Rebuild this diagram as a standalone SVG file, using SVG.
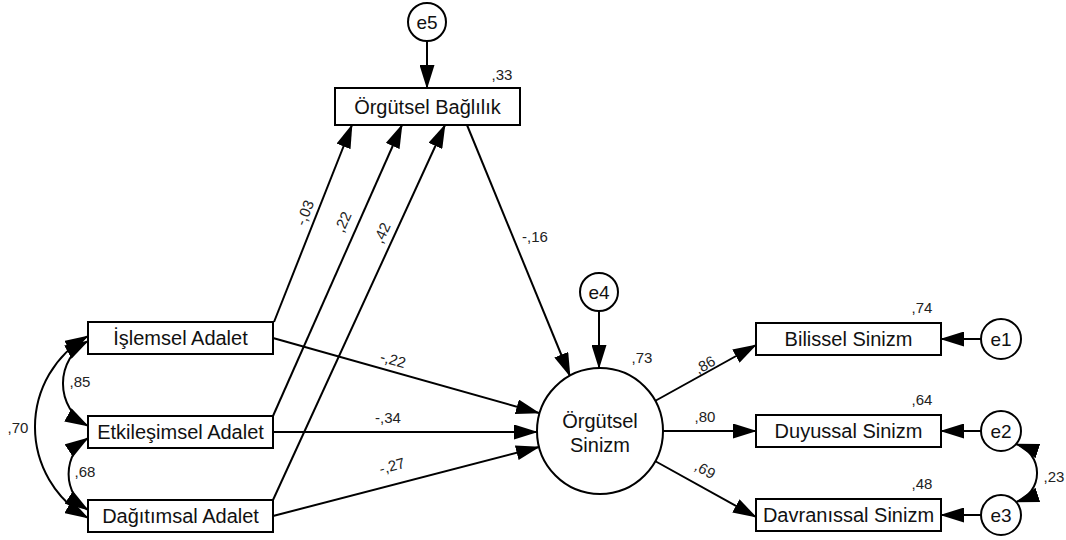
<svg xmlns="http://www.w3.org/2000/svg" width="1066" height="540" viewBox="0 0 1066 540">
  <defs>
    <marker id="ah" viewBox="0 0 24 15" markerWidth="24" markerHeight="15" refX="23" refY="7.5" orient="auto-start-reverse" markerUnits="userSpaceOnUse">
      <path d="M0,0 L24,7.5 L0,15 z" fill="#000"/>
    </marker>
  </defs>
  <style>
    .box { fill: #fff; stroke: #000; stroke-width: 2; }
    .circ { fill: #fff; stroke: #000; stroke-width: 2; }
    .lbl { font-family: "Liberation Sans", Arial, sans-serif; font-size: 20px; fill: #111; text-anchor: middle; }
    .err { font-family: "Liberation Sans", Arial, sans-serif; font-size: 19px; fill: #111; text-anchor: middle; }
    .num { font-family: "Liberation Sans", Arial, sans-serif; font-size: 15px; fill: #222; text-anchor: middle; }
    .path { fill: none; stroke: #000; stroke-width: 2; marker-end: url(#ah); }
    .cov { fill: none; stroke: #000; stroke-width: 2; marker-start: url(#ah); marker-end: url(#ah); }
  </style>

  <!-- connectors -->
  <g id="connectors">
    <!-- error terms -->
    <line class="path" x1="427" y1="41" x2="427" y2="88"/>
    <line class="path" x1="599" y1="311" x2="599" y2="368"/>
    <line class="path" x1="981" y1="339" x2="941" y2="339"/>
    <line class="path" x1="981" y1="431" x2="941" y2="431"/>
    <line class="path" x1="981" y1="515" x2="941" y2="515"/>
    <!-- justice dimensions to commitment -->
    <line class="path" x1="274" y1="322" x2="352" y2="125"/>
    <line class="path" x1="273" y1="416" x2="402" y2="125"/>
    <line class="path" x1="273" y1="500" x2="445" y2="125"/>
    <!-- commitment to cynicism -->
    <line class="path" x1="467" y1="125" x2="570" y2="376"/>
    <!-- justice dimensions to cynicism -->
    <line class="path" x1="273" y1="338" x2="539" y2="413"/>
    <line class="path" x1="273" y1="432" x2="537" y2="432"/>
    <line class="path" x1="273" y1="516" x2="539" y2="447"/>
    <!-- cynicism to indicators -->
    <line class="path" x1="655" y1="401" x2="756" y2="345"/>
    <line class="path" x1="663" y1="431" x2="756" y2="431"/>
    <line class="path" x1="655" y1="461" x2="756" y2="517"/>
    <!-- covariances -->
    <path class="cov" d="M88,341 A48.6,48.6 0 0 0 88,426"/>
    <path class="cov" d="M88,438 A43.1,43.1 0 0 0 88,510"/>
    <path class="cov" d="M88,336 A104.6,104.6 0 0 0 88,518"/>
    <path class="cov" d="M1016,444 A30.5,30.5 0 0 1 1016,502"/>
  </g>

  <!-- path coefficients -->
  <g id="coefficients">
    <text class="num" transform="translate(305,213) rotate(-68)" y="5">-,03</text>
    <text class="num" transform="translate(343,222) rotate(-66)" y="5">,22</text>
    <text class="num" transform="translate(382,233) rotate(-65.5)" y="5">,42</text>
    <text class="num" x="535" y="242">-,16</text>
    <text class="num" transform="translate(393,360) rotate(15.7)" y="5">-,22</text>
    <text class="num" x="388" y="423">-,34</text>
    <text class="num" transform="translate(392,466) rotate(-15)" y="5">-,27</text>
    <text class="num" transform="translate(705,365) rotate(-29)" y="5">,86</text>
    <text class="num" x="705" y="422">,80</text>
    <text class="num" transform="translate(705,470) rotate(29)" y="5">,69</text>
    <text class="num" x="18" y="433">,70</text>
    <text class="num" x="80" y="387">,85</text>
    <text class="num" x="85" y="477">,68</text>
    <text class="num" x="1054" y="482">,23</text>
  </g>

  <!-- observed and latent variables -->
  <g id="e5">
    <circle class="circ" cx="427" cy="22" r="19"/>
    <text class="err" x="427" y="29">e5</text>
  </g>
  <g id="orgutsel-baglilik">
    <rect class="box" x="335" y="88" width="185" height="37"/>
    <text class="lbl" x="427.5" y="114">Örgütsel Bağlılık</text>
    <text class="num" x="502" y="80">,33</text>
  </g>
  <g id="islemsel-adalet">
    <rect class="box" x="88" y="322" width="185" height="32"/>
    <text class="lbl" x="180.5" y="345">İşlemsel Adalet</text>
  </g>
  <g id="etkilesimsel-adalet">
    <rect class="box" x="88" y="416" width="185" height="32"/>
    <text class="lbl" x="180.5" y="439">Etkileşimsel Adalet</text>
  </g>
  <g id="dagitimsal-adalet">
    <rect class="box" x="88" y="500" width="185" height="32"/>
    <text class="lbl" x="180.5" y="523">Dağıtımsal Adalet</text>
  </g>
  <g id="e4">
    <circle class="circ" cx="599" cy="292" r="19"/>
    <text class="err" x="599" y="299">e4</text>
  </g>
  <g id="orgutsel-sinizm">
    <circle class="circ" cx="600" cy="431" r="63"/>
    <text class="lbl" x="600" y="428">Örgütsel</text>
    <text class="lbl" x="600" y="452">Sinizm</text>
    <text class="num" x="642" y="363">,73</text>
  </g>
  <g id="bilissel-sinizm">
    <rect class="box" x="756" y="323" width="185" height="32"/>
    <text class="lbl" x="848.5" y="346">Bilissel Sinizm</text>
    <text class="num" x="922" y="313">,74</text>
  </g>
  <g id="duyussal-sinizm">
    <rect class="box" x="756" y="415" width="185" height="32"/>
    <text class="lbl" x="848.5" y="438">Duyussal Sinizm</text>
    <text class="num" x="922" y="405">,64</text>
  </g>
  <g id="davranissal-sinizm">
    <rect class="box" x="756" y="499" width="185" height="32"/>
    <text class="lbl" x="848.5" y="522">Davranıssal Sinizm</text>
    <text class="num" x="922" y="489">,48</text>
  </g>
  <g id="e1">
    <circle class="circ" cx="1001" cy="339" r="20"/>
    <text class="err" x="1001" y="346">e1</text>
  </g>
  <g id="e2">
    <circle class="circ" cx="1001" cy="431" r="20"/>
    <text class="err" x="1001" y="438">e2</text>
  </g>
  <g id="e3">
    <circle class="circ" cx="1001" cy="515" r="20"/>
    <text class="err" x="1001" y="522">e3</text>
  </g>
</svg>
